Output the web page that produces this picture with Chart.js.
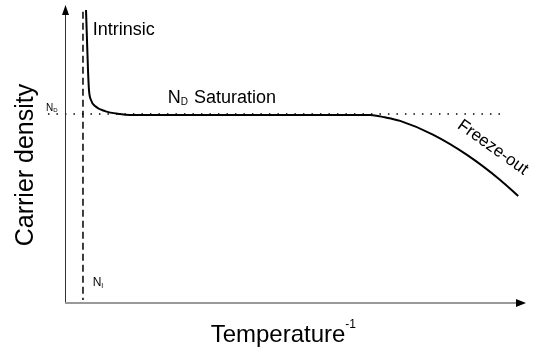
<!DOCTYPE html>
<html>
<head>
<meta charset="utf-8">
<script src="https://cdn.jsdelivr.net/npm/chart.js@4.4.0/dist/chart.umd.min.js"></script>
<style>
  html, body { margin: 0; padding: 0; background: #fff; }
  #wrap { width: 545px; height: 362px; }
</style>
</head>
<body>
<div id="wrap"><canvas id="c"></canvas></div>
<script>
// carrier density vs 1/T, in arbitrary units (0..100 on both axes)
const curveX = [4.56, 4.77, 4.99, 5.2, 5.64, 6.5, 8.68, 11.9, 14.1, 40, 66.2, 69.4, 72.7, 79.8, 87.2, 94.4, 98.3];
const curveY = [98.3, 88.3, 78.2, 71.5, 68.1, 66.1, 64.4, 63.4, 63.1, 63.1, 63.1, 62.3, 61.1, 56.5, 49.7, 41.3, 35.9];

const intrinsicX = [3.9, 3.9];
const intrinsicY = [97.7, 1];

const saturationX = [-3.7, 95.4];
const saturationY = [63.4, 63.4];

const FONT = '"Liberation Sans", Arial, sans-serif';

const pts = (xs, ys) => xs.map((x, i) => ({ x: x, y: ys[i] }));

// draw text with a small subscript part
function subText(ctx, x, y, main, sub, size, subSize, subDy) {
    ctx.font = size + 'px ' + FONT;
    ctx.fillText(main, x, y);
    const w = ctx.measureText(main).width;
    ctx.font = subSize + 'px ' + FONT;
    ctx.fillText(sub, x + w, y + subDy);
    return w + ctx.measureText(sub).width;
}

const decorations = {
    id: 'decorations',
    afterDraw(chart) {
        const ctx = chart.ctx;
        const xs = chart.scales.x, ys = chart.scales.y;
        const x0 = xs.getPixelForValue(0), y0 = ys.getPixelForValue(0);
        const xEnd = xs.getPixelForValue(100), yEnd = ys.getPixelForValue(100);
        ctx.save();

        // y axis with arrow
        ctx.strokeStyle = '#333';
        ctx.lineWidth = 1;
        ctx.beginPath();
        ctx.moveTo(x0 + 0.5, y0);
        ctx.lineTo(x0 + 0.5, yEnd + 6);
        ctx.stroke();
        ctx.fillStyle = '#000';
        ctx.beginPath();
        ctx.moveTo(x0 + 0.5, yEnd);
        ctx.lineTo(x0 - 3, yEnd + 10);
        ctx.lineTo(x0 + 4, yEnd + 10);
        ctx.closePath();
        ctx.fill();

        // x axis with arrow
        ctx.strokeStyle = '#999';
        ctx.lineWidth = 2;
        ctx.beginPath();
        ctx.moveTo(x0, y0);
        ctx.lineTo(xEnd - 6, y0);
        ctx.stroke();
        ctx.fillStyle = '#000';
        ctx.beginPath();
        ctx.moveTo(xEnd, y0);
        ctx.lineTo(xEnd - 10, y0 - 4);
        ctx.lineTo(xEnd - 10, y0 + 4);
        ctx.closePath();
        ctx.fill();

        ctx.fillStyle = '#000';
        ctx.textBaseline = 'alphabetic';
        ctx.textAlign = 'left';

        // axis titles
        ctx.font = '24px ' + FONT;
        const tw = ctx.measureText('Temperature').width;
        const tx = 282 - (tw + 8) / 2;
        ctx.fillText('Temperature', tx, 342);
        ctx.font = '12px ' + FONT;
        ctx.fillText('-1', tx + tw, 328);

        ctx.save();
        ctx.translate(33, 165);
        ctx.rotate(-Math.PI / 2);
        ctx.font = '25px ' + FONT;
        ctx.textAlign = 'center';
        ctx.fillText('Carrier density', 0, 0);
        ctx.restore();

        // region labels
        ctx.font = '18px ' + FONT;
        ctx.fillText('Intrinsic', xs.getPixelForValue(6), ys.getPixelForValue(90));

        const sx = xs.getPixelForValue(22.3), sy = ys.getPixelForValue(67.2);
        const nw = subText(ctx, sx, sy, 'N', 'D', 18, 10, 2);
        ctx.font = '18px ' + FONT;
        ctx.fillText('Saturation', sx + nw + 6, sy);

        ctx.save();
        ctx.translate(xs.getPixelForValue(92.2), ys.getPixelForValue(50.9));
        ctx.rotate(35.5 * Math.PI / 180);
        ctx.font = '17px ' + FONT;
        ctx.textAlign = 'center';
        ctx.fillText('Freeze-out', 0, 0);
        ctx.restore();

        // level markers
        subText(ctx, 46, ys.getPixelForValue(64.5), 'N', 'D', 10, 6, 1);
        subText(ctx, xs.getPixelForValue(6), ys.getPixelForValue(5.8), 'N', 'I', 12, 7, 2);

        ctx.restore();
    }
};

new Chart(document.getElementById('c'), {
    type: 'scatter',
    data: {
        datasets: [
            {
                label: 'Carrier density',
                data: pts(curveX, curveY),
                showLine: true,
                borderColor: '#000',
                borderWidth: 2,
                pointRadius: 0,
                cubicInterpolationMode: 'monotone',
            },
            {
                label: 'Intrinsic',
                data: pts(intrinsicX, intrinsicY),
                showLine: true,
                borderColor: '#000',
                borderWidth: 1.5,
                borderDash: [7, 4],
                pointRadius: 0,
            },
            {
                label: 'ND',
                data: pts(saturationX, saturationY),
                showLine: true,
                borderColor: '#000',
                borderWidth: 1.5,
                borderDash: [1.5, 7],
                pointRadius: 0,
                clip: false,
            },
        ],
    },
    options: {
        responsive: true,
        maintainAspectRatio: false,
        animation: false,
        layout: { padding: { left: 65, right: 19, top: 5, bottom: 59 } },
        plugins: {
            legend: { display: false },
            tooltip: { enabled: false },
        },
        scales: {
            x: { type: 'linear', min: 0, max: 100, display: false },
            y: { type: 'linear', min: 0, max: 100, display: false },
        },
    },
    plugins: [decorations],
});
</script>
</body>
</html>
